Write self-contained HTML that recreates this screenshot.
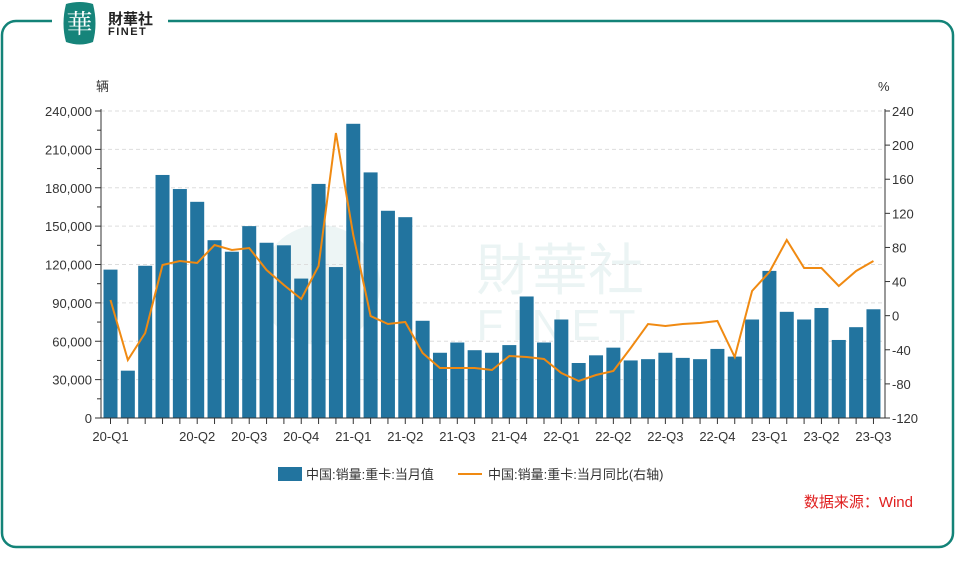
<!DOCTYPE html>
<html><head><meta charset="utf-8"><style>
body{margin:0;background:#fff;width:957px;height:570px;overflow:hidden;font-family:"Liberation Sans","Noto Sans CJK SC",sans-serif}
</style></head><body>
<svg width="957" height="570" xmlns="http://www.w3.org/2000/svg" font-family="Liberation Sans, Noto Sans CJK SC, sans-serif">
<rect x="2" y="21" width="951" height="526" rx="14" fill="none" stroke="#138378" stroke-width="2.5"/>
<rect x="52" y="0" width="116" height="40" fill="#fff"/>
<path d="M66 4 Q80 0 93 4 Q98 24 93 42 Q80 47 66 42 Q61 24 66 4Z" fill="#16847a"/>
<text x="79.5" y="33" font-size="26" fill="#fff" text-anchor="middle" font-family="Noto Serif CJK SC, serif">華</text>
<text x="108" y="24" font-size="15" font-weight="bold" fill="#222">財華社</text>
<text x="108" y="35" font-size="11" font-weight="bold" fill="#222" letter-spacing="1.5">FINET</text>
<g opacity="0.08"><circle cx="320" cy="285" r="60" fill="#16847a"/><text x="560" y="290" font-size="56" fill="#16847a" text-anchor="middle">財華社</text><text x="560" y="340" font-size="44" fill="#16847a" text-anchor="middle" letter-spacing="8">FINET</text></g>
<g id="grid" stroke="#ddd" stroke-dasharray="4,3" stroke-width="1"></g>
<g id="bars" fill="#22749f"></g>
<g id="axes" stroke="#333" stroke-width="1" fill="none"></g>
<g id="lt" font-size="13" fill="#333" text-anchor="end"></g>
<g id="rt" font-size="13" fill="#333"></g>
<g id="xt" font-size="13" fill="#333" text-anchor="middle"></g>
<polyline id="line" fill="none" stroke="#f08a12" stroke-width="2"/>
<text x="96" y="91" font-size="13" fill="#333">辆</text>
<text x="878" y="91" font-size="13" fill="#333">%</text>
<rect x="278" y="467" width="24" height="14" fill="#22749f"/>
<text x="306" y="479" font-size="13" fill="#333">中国:销量:重卡:当月值</text>
<line x1="458" y1="474" x2="482" y2="474" stroke="#f08a12" stroke-width="2"/>
<text x="488" y="479" font-size="13" fill="#333">中国:销量:重卡:当月同比(右轴)</text>
<text x="913" y="507" font-size="15" fill="#e02020" text-anchor="end">数据来源：Wind</text>
</svg>
<script>
(function(){
const ns="http://www.w3.org/2000/svg";
function el(p,t,a,txt){const e=document.createElementNS(ns,t);for(const k in a)e.setAttribute(k,a[k]);if(txt!==undefined)e.textContent=txt;document.getElementById(p).appendChild(e);return e}
const y0=418,yt=111,h=y0-yt;
const yL=v=>y0-v/240000*h, yR=v=>y0-(v+120)/360*h;
for(let i=0;i<=8;i++){const v=i*30000,y=yL(v);if(i>0)el('grid','line',{x1:101,x2:885,y1:y,y2:y});el('lt','text',{x:92,y:y+5},v.toLocaleString('en-US'));el('axes','line',{x1:95,x2:101,y1:y,y2:y});if(i<8)el('axes','line',{x1:97,x2:101,y1:yL(v+15000),y2:yL(v+15000)})}
for(let v=-120;v<=240;v+=40){const y=yR(v);el('rt','text',{x:892,y:y+5},String(v));el('axes','line',{x1:885,x2:890,y1:y,y2:y})}
el('axes','line',{x1:101,x2:101,y1:yt-2,y2:y0});el('axes','line',{x1:885,x2:885,y1:yt-2,y2:y0});el('axes','line',{x1:101,x2:885,y1:y0,y2:y0});
const b=[116,37,119,190,179,169,139,130,150,137,135,109,183,118,230,192,162,157,76,51,59,53,51,57,95,59,77,43,49,55,45,46,51,47,46,54,48,77,115,83,77,86,61,71,85];
const L=[300,360,333,265,261,263,245,250,248,270,285,299,266,133,235,316,324,322,353,368,368,368,370,356,357,359,373,381,375,371,348,324,326,324,323,321,357,291,272,240,268,268,286,271,261];
const labs={0:'20-Q1',5:'20-Q2',8:'20-Q3',11:'20-Q4',14:'21-Q1',17:'21-Q2',20:'21-Q3',23:'21-Q4',26:'22-Q1',29:'22-Q2',32:'22-Q3',35:'22-Q4',38:'23-Q1',41:'23-Q2',44:'23-Q3'};
let pts=[];
b.forEach((v,i)=>{const cx=110.5+i*17.34,y=yL(v*1000);el('bars','rect',{x:cx-7,y:y,width:14,height:y0-y});pts.push(cx+','+L[i]);el('axes','line',{x1:cx,x2:cx,y1:y0,y2:y0+6});if(labs[i])el('xt','text',{x:cx,y:441},labs[i])});
document.getElementById('line').setAttribute('points',pts.join(' '));
})();
</script>
</body></html>
